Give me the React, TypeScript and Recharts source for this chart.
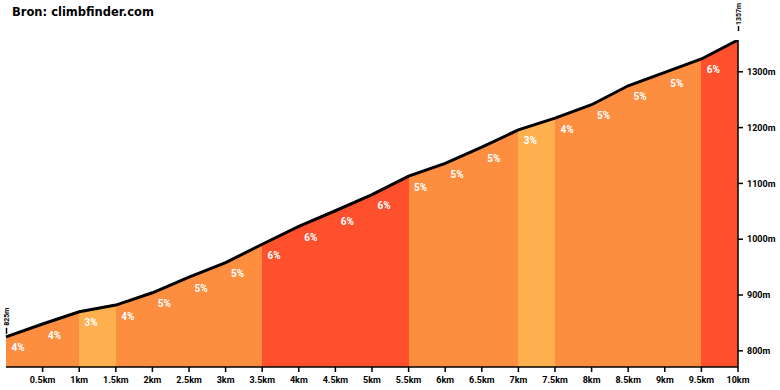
import React from 'react';
import { AreaChart, Area, XAxis, YAxis } from 'recharts';

// profile sampled every 0.5 km
const distKm = [0, 0.5, 1, 1.5, 2, 2.5, 3, 3.5, 4, 4.5, 5, 5.5, 6, 6.5, 7, 7.5, 8, 8.5, 9, 9.5, 10];
const elevM = [825, 848, 870, 882, 904, 932, 958, 991, 1023, 1051, 1080, 1113, 1136, 1165, 1196, 1217, 1241, 1275, 1299, 1323, 1357];
// gradient of each 0.5 km segment
const gradePct = [4, 4, 3, 4, 5, 5, 5, 6, 6, 6, 6, 5, 5, 5, 3, 4, 5, 5, 5, 6];

const xTicks = [0.5, 1, 1.5, 2, 2.5, 3, 3.5, 4, 4.5, 5, 5.5, 6, 6.5, 7, 7.5, 8, 8.5, 9, 9.5, 10];
const yTicks = [800, 900, 1000, 1100, 1200, 1300];

const data = distKm.map((d, i) => ({ d, elev: elevM[i] }));

const gradeColor = (g: number) => (g <= 3 ? '#fdb04d' : g >= 6 ? '#fe502d' : '#fd8d3f');

const FONT = 'Roboto, "DejaVu Sans", sans-serif';

const PointLabel = (props: any) => {
  const { x, y, index } = props;
  const last = elevM.length - 1;
  const pct =
    index < gradePct.length ? (
      <text x={x + 12} y={y + 14.5} textAnchor="middle" fontSize={10} fontWeight={700} fontFamily={FONT} fill="#fff">
        {gradePct[index]}%
      </text>
    ) : null;
  if (index === 0 || index === last) {
    const tx = x + 3;
    // dash and text sit above the first / last point
    const dashTop = index === 0 ? 9 : 14;
    const dashBot = index === 0 ? 3 : 9;
    const textStart = index === 0 ? 11 : 15;
    return (
      <g>
        <line x1={x + 0.5} x2={x + 0.5} y1={y - dashTop} y2={y - dashBot} stroke="#000" strokeWidth={1.5} />
        <text
          x={tx}
          y={y - textStart}
          transform={`rotate(-90 ${tx} ${y - textStart})`}
          textAnchor="start"
          fontSize={7}
          fontWeight={700}
          fontFamily={FONT}
          fill="#000"
        >
          {elevM[index]}m
        </text>
        {pct}
      </g>
    );
  }
  return pct;
};

export default function App() {
  return (
    <div style={{ position: 'absolute', left: 0, top: 0, width: 780, height: 390, background: '#fff' }}>
      <div
        style={{
          position: 'absolute',
          left: 12,
          top: 5,
          fontFamily: '"DejaVu Sans", sans-serif',
          fontWeight: 700,
          fontSize: 11.5,
          color: '#000',
        }}
      >
        Bron: climbfinder.com
      </div>
      <AreaChart width={780} height={390} data={data} margin={{ top: 40, right: 0, left: 6, bottom: 0 }}>
        <defs>
          <linearGradient id="gradeFill" x1="0" y1="0" x2="1" y2="0">
            {gradePct.flatMap((g, i) => [
              <stop key={`a${i}`} offset={i / gradePct.length} stopColor={gradeColor(g)} />,
              <stop key={`b${i}`} offset={(i + 1) / gradePct.length} stopColor={gradeColor(g)} />,
            ])}
          </linearGradient>
        </defs>
        <XAxis
          dataKey="d"
          type="number"
          domain={[0, 10]}
          ticks={xTicks}
          tickFormatter={(v: number) => `${v}km`}
          height={23}
          tickSize={5}
          tickMargin={5}
          axisLine={{ stroke: '#000', strokeWidth: 1.5 }}
          tickLine={{ stroke: '#000', strokeWidth: 1.5 }}
          tick={{ fill: '#000', fontSize: 9, fontWeight: 700, fontFamily: FONT }}
          interval={0}
        />
        <YAxis
          orientation="right"
          domain={[771, 1357]}
          ticks={yTicks}
          tickFormatter={(v: number) => `${v}m`}
          width={42}
          tickSize={5}
          tickMargin={4}
          axisLine={{ stroke: '#000', strokeWidth: 1.5 }}
          tickLine={{ stroke: '#000', strokeWidth: 1.5 }}
          tick={{ fill: '#000', fontSize: 9, fontWeight: 700, fontFamily: FONT }}
          allowDataOverflow
        />
        <Area
          type="linear"
          dataKey="elev"
          stroke="#000"
          strokeWidth={3}
          fill="url(#gradeFill)"
          fillOpacity={1}
          isAnimationActive={false}
          dot={false}
          activeDot={false}
          label={<PointLabel />}
        />
      </AreaChart>
    </div>
  );
}
